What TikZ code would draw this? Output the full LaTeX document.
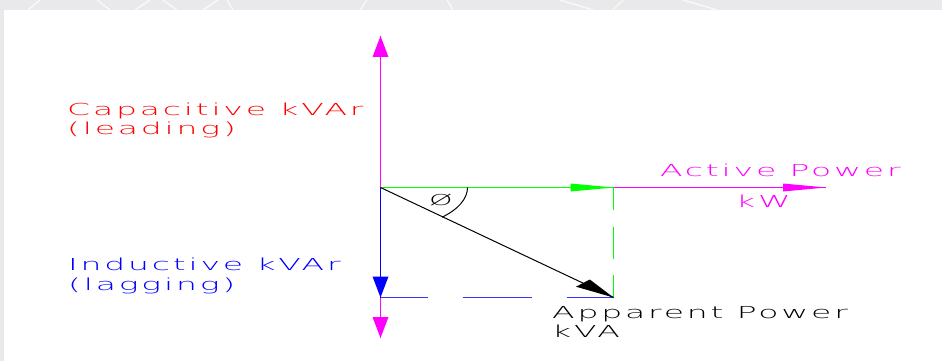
\documentclass[tikz,border=0pt]{standalone}
\usepackage{fontspec}
\newfontfamily\cadfont[FakeStretch=2.0,LetterSpace=17]{DejaVu Sans ExtraLight}
\usetikzlibrary{calc}
\definecolor{bgray}{RGB}{233,233,235}
\definecolor{cadred}{RGB}{255,0,0}
\definecolor{cadblue}{RGB}{0,0,255}
\definecolor{cadmag}{RGB}{255,0,255}
\definecolor{cadgreen}{RGB}{0,255,0}
\begin{document}
\begin{tikzpicture}[x=1pt,y=-1pt,
  lbl/.style={anchor=base west,inner sep=0pt,font=\cadfont\fontsize{16.5}{19}\selectfont},
  lw/.style={line width=1pt},
  crack/.style={white,line width=1.4pt,opacity=0.7}]
\useasboundingbox (0,0) rectangle (942,361);
\fill[bgray] (0,0) rectangle (942,361);
\begin{scope}
\clip (0,0) rectangle (942,10);
\draw[crack] (28,10) -- (40,0);
\draw[crack] (97,0) -- (110,10);
\draw[crack] (135,10) -- (150,0);
\draw[crack] (163,0) -- (177,10);
\draw[crack] (203,10) -- (218,0);
\draw[crack] (227,0) -- (233,10);
\draw[crack] (360,10) -- (367,0);
\draw[crack] (447,0) -- (453,10);
\draw[crack] (560,0) -- (593,10);
\draw[crack] (613,10) -- (623,0);
\draw[crack] (683,0) -- (717,10);
\end{scope}
\fill[white] (4,10) rectangle (942,361);

\coordinate (O) at (380.5,187.5);
\coordinate (T) at (380.5,36);
\coordinate (B) at (380.5,297.5);
\coordinate (D) at (380.5,338);
\coordinate (P) at (613.5,187.5);
\coordinate (R) at (826,187.5);
\coordinate (Q) at (613.5,297.5);

\draw[cadmag,lw] (O) -- (T);
\draw[cadblue,lw] (O) -- (B);
\draw[cadmag,lw] (B) -- (D);
\draw[cadgreen,lw] (O) -- (P);
\draw[cadmag,lw] (P) -- (R);
\draw[cadgreen,lw,dash pattern=on 32pt off 16.5pt,dash phase=9.4pt] (P) -- (Q);
\draw[cadblue!80,lw,dash pattern=on 69pt off 35pt,dash phase=22pt] (B) -- (Q);
\draw[black,lw] (O) -- (Q);
\draw[black,lw] (O) ++(87,0) arc[start angle=0,end angle=45,x radius=87,y radius=42];

\fill[cadmag] (T) -- ++(-8,21) -- ++(16,0) -- cycle;
\fill[cadblue] (B) -- ++(-8,-21) -- ++(16,0) -- cycle;
\fill[cadmag] (D) -- ++(-8,-21) -- ++(16,0) -- cycle;
\fill[cadgreen] (P) -- ++(-43,-4) -- ++(0,8) -- cycle;
\fill[cadmag] (R) -- ++(-43,-4) -- ++(0,8) -- cycle;
\fill[black] (Q) -- ($(Q)+(-37.5,-10.8)$) -- ($(Q)+(-23.7,-18)$) -- cycle;

\node[lbl,text=cadred] (cap1) at (67,115) {Capacitive kVAr};
\node[lbl,text=cadred] (cap2) at (67,134) {(leading)};
\node[lbl,text=cadblue] (ind1) at (68,270) {Inductive kVAr};
\node[lbl,text=cadblue] (ind2) at (68,290) {(lagging)};
\node[lbl,text=cadmag] (act) at (660,176) {Active Power};
\node[lbl,text=cadmag] (kw) at (736,207) {kW};
\node[lbl] (app) at (552,318) {Apparent Power};
\node[lbl] (kva) at (552,337) {kVA};
\node[anchor=center,inner sep=0pt,font=\cadfont\fontsize{15}{17}\selectfont] (phi) at (441,200) {Ø};
\end{tikzpicture}
\end{document}
